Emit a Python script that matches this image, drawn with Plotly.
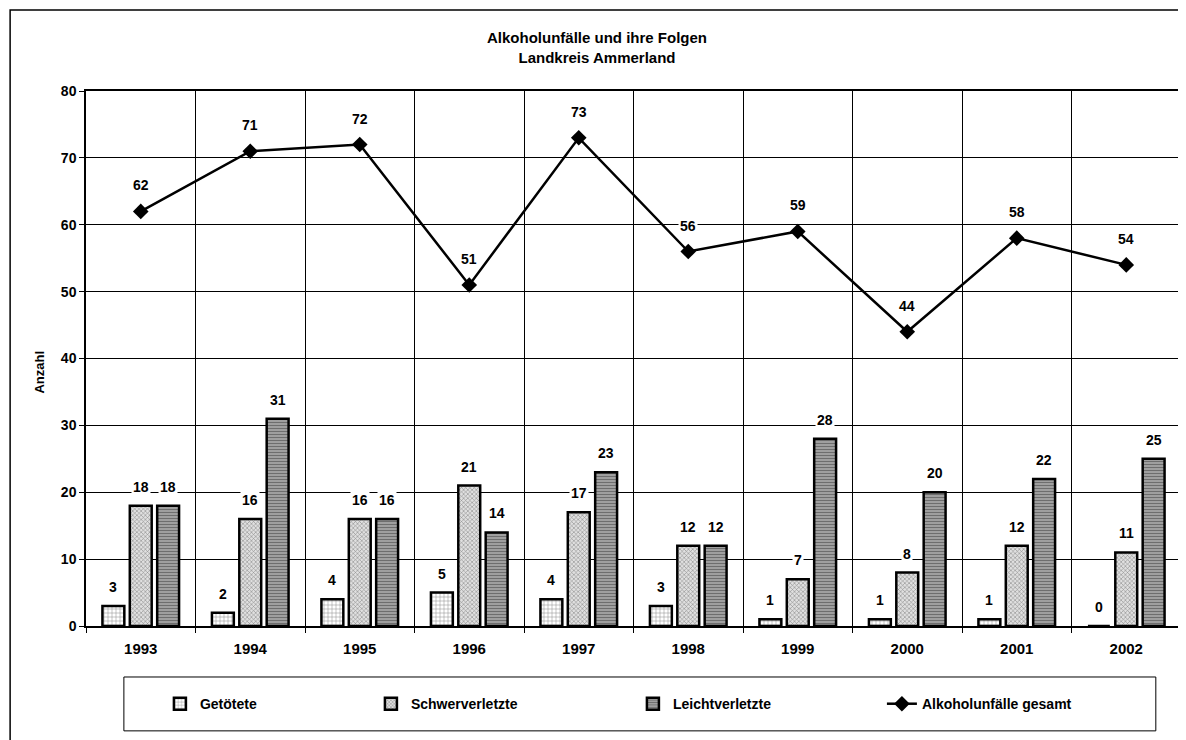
import plotly.graph_objects as go

years = ["1993", "1994", "1995", "1996", "1997", "1998", "1999", "2000", "2001", "2002"]
getoetete = [3, 2, 4, 5, 4, 3, 1, 1, 1, 0]
schwerverletzte = [18, 16, 16, 21, 17, 12, 7, 8, 12, 11]
leichtverletzte = [18, 31, 16, 14, 23, 12, 28, 20, 22, 25]
gesamt = [62, 71, 72, 51, 73, 56, 59, 44, 58, 54]

FONT = "Liberation Sans, Arial, sans-serif"

fig = go.Figure()
fig.add_trace(go.Bar(
    x=years, y=getoetete, name="Getötete", legendwidth=166,
    marker=dict(color="white", line=dict(color="black", width=2.5),
                pattern=dict(shape="+", fgcolor="#222", bgcolor="white", size=4, solidity=0.25)),
))
fig.add_trace(go.Bar(
    x=years, y=schwerverletzte, name="Schwerverletzte", legendwidth=217,
    marker=dict(color="#d0d0d0", line=dict(color="black", width=2.5),
                pattern=dict(shape="x", fgcolor="#333", bgcolor="#e0e0e0", size=3, solidity=0.35)),
))
fig.add_trace(go.Bar(
    x=years, y=leichtverletzte, name="Leichtverletzte", legendwidth=204,
    marker=dict(color="#888", line=dict(color="black", width=2.5),
                pattern=dict(shape="-", fgcolor="#333", bgcolor="#a8a8a8", size=3, solidity=0.45)),
))
fig.add_trace(go.Scatter(
    x=years, y=gesamt, name="Alkoholunfälle gesamt", mode="lines+markers", legendwidth=200,
    line=dict(color="black", width=2.5),
    marker=dict(symbol="diamond", size=12, color="black"),
))

ann_font = dict(family=FONT, size=14, color="black", weight="bold")
for series, shift in [(getoetete, -27.4), (schwerverletzte, 0), (leichtverletzte, 27.4)]:
    for i, v in enumerate(series):
        fig.add_annotation(x=i, y=v, xref="x", yref="y", text=str(v), showarrow=False,
                           xshift=shift, yshift=19, bgcolor="white", font=ann_font, borderpad=1)
for i, v in enumerate(gesamt):
    fig.add_annotation(x=i, y=v, xref="x", yref="y", text=str(v), showarrow=False,
                       yshift=26, bgcolor="white", font=ann_font, borderpad=1)

# y-axis title
fig.add_annotation(x=-0.051, y=0.475, xref="paper", yref="paper", text="<b>Anzahl</b>",
                   textangle=-90, showarrow=False,
                   font=dict(family=FONT, size=13, color="black"))

# outer frame and legend frame
fig.add_shape(type="rect", xref="paper", yref="paper", x0=-0.0693, x1=1.02, y0=-0.23, y1=1.1514,
              line=dict(color="black", width=1.5), layer="below")
fig.add_shape(type="rect", xref="paper", yref="paper", x0=0.0346, x1=0.977, y0=-0.196, y1=-0.0953,
              line=dict(color="black", width=1), layer="below")

fig.update_layout(
    width=1178, height=732,
    margin=dict(l=78, r=3, t=83, b=114),
    paper_bgcolor="white", plot_bgcolor="white",
    barmode="group", bargap=0.25, bargroupgap=0.2,
    font=dict(family=FONT, size=12, color="black"),
    title=dict(text="<b>Alkoholunfälle und ihre Folgen<br>Landkreis Ammerland</b>",
               x=0.5, xref="container", xanchor="center", y=0.952, yanchor="top",
               font=dict(family=FONT, size=15, color="black")),
    showlegend=True,
    legend=dict(orientation="h", x=0.0675, xanchor="left", y=-0.146, yanchor="middle",
                font=dict(family=FONT, size=14, color="black", weight="bold"),
                bgcolor="rgba(0,0,0,0)", traceorder="normal"),
    xaxis=dict(type="category", range=[-0.5, 9.5], tickson="boundaries", ticks="outside", ticklen=5,
               tickcolor="black", showgrid=True, gridcolor="black", gridwidth=1,
               showline=True, linecolor="black", linewidth=1.5, mirror=True,
               ticklabelstandoff=8,
               tickfont=dict(family=FONT, size=15, color="black", weight="bold")),
    yaxis=dict(range=[0, 80], dtick=10, ticks="outside", ticklen=5, tickcolor="black",
               showgrid=True, gridcolor="black", gridwidth=1,
               showline=True, linecolor="black", linewidth=1.5, mirror=True,
               zeroline=False,
               tickfont=dict(family=FONT, size=14, color="black", weight="bold")),
)

fig.write_html("out.html")
